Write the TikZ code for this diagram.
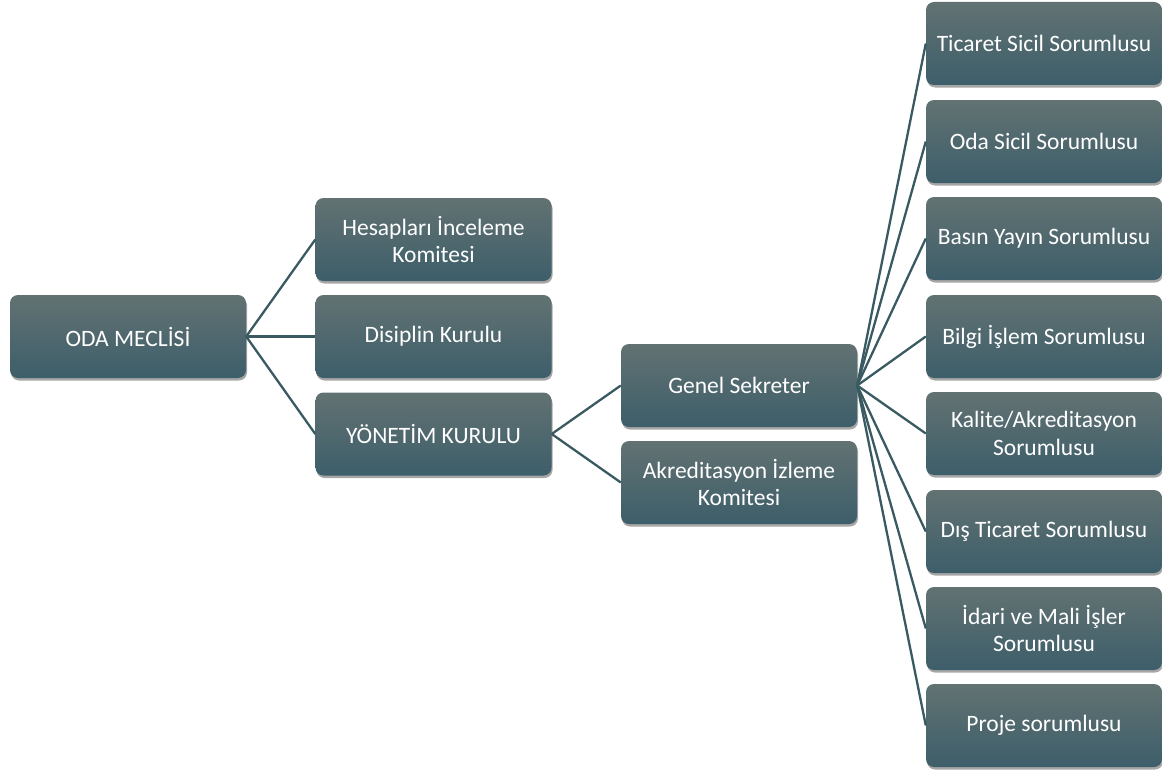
\documentclass[tikz,border=0pt]{standalone}
\usepackage{fontspec}
\setmainfont{Carlito}
\usetikzlibrary{shadows}
\definecolor{boxtop}{HTML}{627272}
\definecolor{boxbot}{HTML}{3D5E6A}
\definecolor{linkc}{HTML}{3A5A62}
\begin{document}
\begin{tikzpicture}[x=1pt,y=-1pt,
  orgbox/.style={rectangle, rounded corners=8pt, minimum width=236pt, minimum height=83pt,
    top color=boxtop, bottom color=boxbot, draw=none, text=white, align=center,
    font=\fontsize{23.5}{27.5}\selectfont,
    drop shadow={shadow xshift=1pt, shadow yshift=-2.5pt, opacity=0.35, fill=black}},
  link/.style={draw=linkc, line width=2.3pt}]
\useasboundingbox (0,0) rectangle (1162,776);
\node[orgbox] (oda) at (128,336.5) {ODA MECLİSİ};
\node[orgbox] (hes) at (433.5,239.5) {Hesapları İnceleme\\Komitesi};
\node[orgbox] (dis) at (433.5,336.5) {Disiplin Kurulu};
\node[orgbox] (yon) at (433.5,434) {YÖNETİM KURULU};
\node[orgbox] (gen) at (739,385.5) {Genel Sekreter};
\node[orgbox] (akr) at (739,482.5) {Akreditasyon İzleme\\Komitesi};
\node[orgbox] (r1) at (1044,43.5) {Ticaret Sicil Sorumlusu};
\node[orgbox] (r2) at (1044,141.5) {Oda Sicil Sorumlusu};
\node[orgbox] (r3) at (1044,238.5) {Basın Yayın Sorumlusu};
\node[orgbox] (r4) at (1044,336.5) {Bilgi İşlem Sorumlusu};
\node[orgbox] (r5) at (1044,433.5) {Kalite/Akreditasyon\\Sorumlusu};
\node[orgbox] (r6) at (1044,531.5) {Dış Ticaret Sorumlusu};
\node[orgbox] (r7) at (1044,628.5) {İdari ve Mali İşler\\Sorumlusu};
\node[orgbox] (r8) at (1044,725.5) {Proje sorumlusu};
\foreach \c in {hes,dis,yon} \draw[link] (oda.east) -- (\c.west);
\foreach \c in {gen,akr} \draw[link] (yon.east) -- (\c.west);
\foreach \c in {r1,r2,r3,r4,r5,r6,r7,r8} \draw[link] (gen.east) -- (\c.west);
\end{tikzpicture}
\end{document}
